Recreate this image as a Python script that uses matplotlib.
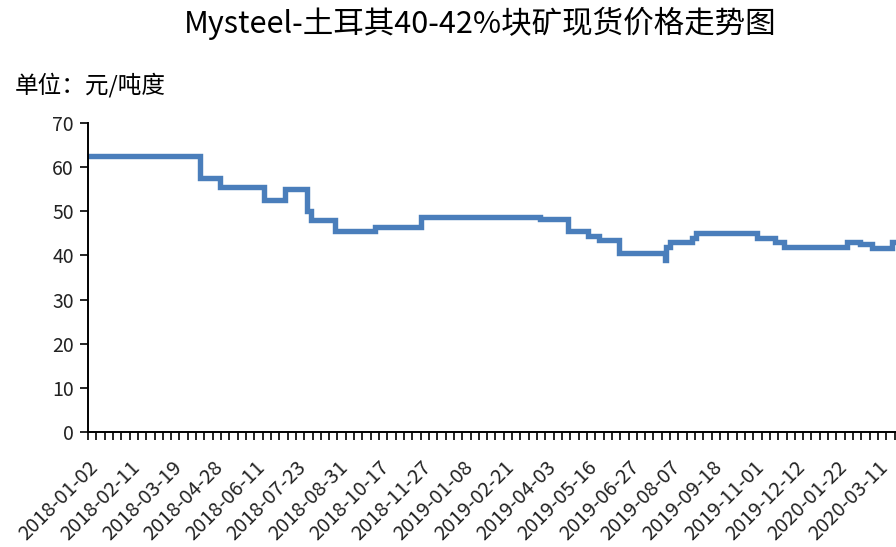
import matplotlib
matplotlib.use('Agg')
import matplotlib.pyplot as plt
import numpy as np

plt.rcParams['font.family'] = ['Noto Sans CJK SC', 'DejaVu Sans']

# category labels shown on the x axis (one every 30 trading days)
tick_labels = ['2018-01-02', '2018-02-11', '2018-03-19', '2018-04-28', '2018-06-11',
               '2018-07-23', '2018-08-31', '2018-10-17', '2018-11-27', '2019-01-08',
               '2019-02-21', '2019-04-03', '2019-05-16', '2019-06-27', '2019-08-07',
               '2019-09-18', '2019-11-01', '2019-12-12', '2020-01-22', '2020-03-11']
label_every = 30
n_points = 584

# price level changes: index of trading day where a new price starts, and the price
change_idx = [0, 81, 95, 127, 142, 158, 161, 178, 207, 240, 326, 346, 361, 369, 383,
              416, 417, 420, 436, 439, 483, 496, 502, 548, 557, 566, 580]
prices = [62.5, 57.5, 55.5, 52.5, 55.0, 50.0, 48.0, 45.5, 46.5, 48.8, 48.3, 45.5, 44.5,
          43.5, 40.5, 39.0, 42.0, 43.0, 44.0, 45.0, 44.0, 43.0, 42.0, 43.0, 42.5, 41.8, 43.0]

xs = list(change_idx) + [n_points - 1]
ys = list(prices) + [prices[-1]]

fig = plt.figure(figsize=(8.96, 5.47), dpi=100)
ax = fig.add_axes([0.0982, 0.2102, 0.9018, 0.5648])

ax.step(xs, ys, where='post', color='#4A7EBB', linewidth=3.9, solid_joinstyle='miter')

ax.set_xlim(0, 583)
ax.set_ylim(0, 70)
ax.set_yticks(np.arange(0, 71, 10))

major = np.arange(len(tick_labels)) * label_every
ax.set_xticks(major)
ax.set_xticklabels(tick_labels, rotation=45, ha='right', va='top', rotation_mode='anchor',
                   fontsize=14.5, color='#222222')
ax.set_xticks(np.arange(0, 584, 6), minor=True)

ax.tick_params(axis='x', which='both', direction='out', length=6, width=1.2, color='black', pad=12)
ax.tick_params(axis='y', direction='out', length=6, width=1.2, color='black', labelsize=14,
               labelcolor='#222222', pad=4)

for s in ['top', 'right']:
    ax.spines[s].set_visible(False)
for s in ['left', 'bottom']:
    ax.spines[s].set_linewidth(1.4)
    ax.spines[s].set_color('black')

fig.text(0.536, 0.958, 'Mysteel-土耳其40-42%块矿现货价格走势图', ha='center', va='center',
         fontsize=22, color='black')
fig.text(0.017, 0.845, '单位：元/吨度', ha='left', va='center', fontsize=17, color='black')

fig.savefig('out.png', dpi=100)
